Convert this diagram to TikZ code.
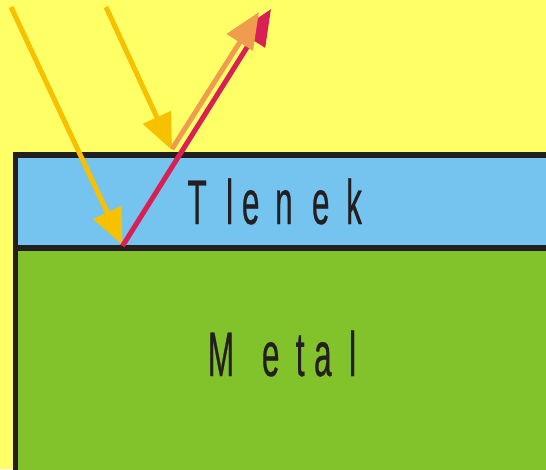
\documentclass[tikz,border=0pt]{standalone}
\usepackage{fontspec}
\newfontfamily\condfont[FakeStretch=0.5,FakeBold=0.4]{Liberation Sans}
\usetikzlibrary{arrows.meta}
\definecolor{bgyellow}{HTML}{FFFF66}
\definecolor{oxide}{HTML}{75C4EF}
\definecolor{metal}{HTML}{82C22A}
\definecolor{edge}{HTML}{231F20}
\definecolor{ray}{HTML}{F8C100}
\definecolor{refl}{HTML}{F09C4F}
\definecolor{refr}{HTML}{D91F54}
\tikzset{
  beam/.style={line width=5pt, -{Triangle[length=36pt,width=30pt]}},
  border/.style={line width=5.5pt, draw=edge, line join=miter},
  label/.style={inner sep=0pt, anchor=base west, text=edge,
    font=\condfont\fontsize{63}{63}\selectfont}
}
\begin{document}
\begin{tikzpicture}[x=1pt,y=-1pt]
\useasboundingbox (0,0) rectangle (546,469);
\fill[bgyellow] (0,0) rectangle (546,469);
\fill[oxide] (15.5,155) rectangle (550,248);
\fill[metal] (15.5,248) rectangle (550,475);
\draw[border] (552,155) -- (15.5,155) -- (15.5,475);
\draw[border] (15.5,248) -- (552,248);
\node[label] (tlenek) at (187.3,224) {T\kern19.4pt l\kern8.8pt e\kern15.7pt n\kern19.3pt e\kern16.7pt k};
\node[label] (metalt) at (207.7,376) {M\kern27.8pt e\kern16.3pt t\kern9.6pt a\kern17.5pt l};
\coordinate (s1) at (11,7);
\coordinate (p1) at (122.5,245);
\coordinate (s2) at (106,7);
\coordinate (p2) at (172,150);
\coordinate (q2) at (172,149);
\coordinate (e2) at (259,12);
\coordinate (q1) at (122.5,246);
\coordinate (e1) at (271,9);
\draw[beam, draw=ray, fill=ray] (s1) -- (p1);
\draw[beam, draw=ray, fill=ray] (s2) -- (p2);
\draw[beam, draw=refr, fill=refr] (q1) -- (e1);
\draw[beam, draw=refl, fill=refl] (q2) -- (e2);
\end{tikzpicture}
\end{document}
